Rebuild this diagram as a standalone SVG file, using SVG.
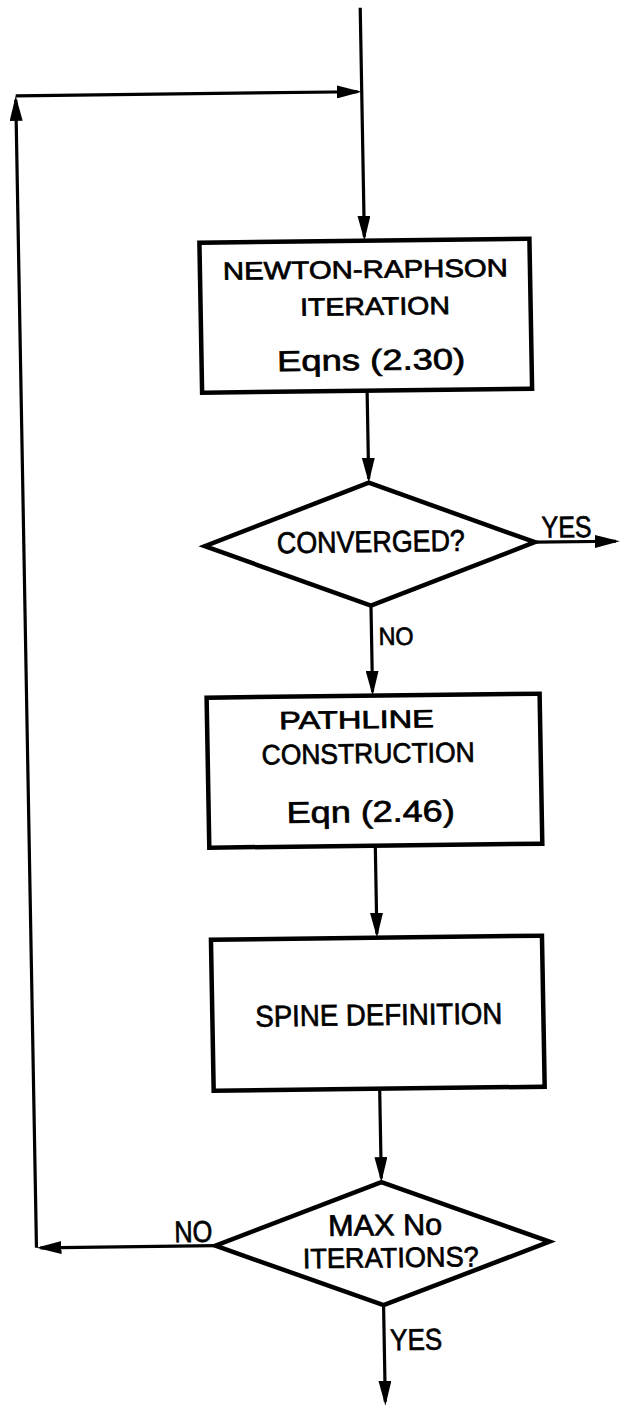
<svg xmlns="http://www.w3.org/2000/svg" width="621" height="1407" viewBox="0 0 621 1407">
<style>
.node{fill:#fff;stroke:#000;stroke-width:4.5;stroke-linejoin:miter}
.conn{fill:none;stroke:#000;stroke-width:3.2}
.t{font-family:"Liberation Sans",Arial,sans-serif;fill:#000;stroke:#000;stroke-width:0.7}
</style>
<defs>
<marker id="ah" viewBox="0 0 25 13" markerWidth="25" markerHeight="13" refX="21" refY="6.5" orient="auto" markerUnits="userSpaceOnUse">
<path d="M0,0 L25,6.5 L0,13 z" fill="#000"/>
</marker>
</defs>
<rect x="0" y="0" width="621" height="1407" fill="#fff"/>
<g transform="matrix(1,-0.012,0.018,1,0,0)">
<g id="connectors" class="conn" marker-end="url(#ah)">
<path d="M360,12 V241"/>
<path d="M14,96 H356"/>
<path d="M14,1248 V100"/>
<path d="M360,395 V483"/>
<path d="M525,548.5 H606"/>
<path d="M360,610 V696"/>
<path d="M360,850 V938"/>
<path d="M360,1093 V1182.5"/>
<path d="M193,1248 H18"/>
<path d="M360,1309.5 V1406"/>
</g>
<g id="newton-raphson">
<rect class="node" x="195" y="245" width="330" height="150"/>
<text class="t" x="218" y="282.4" font-size="25" textLength="285" lengthAdjust="spacingAndGlyphs">NEWTON-RAPHSON</text>
<text class="t" x="294.4" y="319.4" font-size="25" textLength="150" lengthAdjust="spacingAndGlyphs">ITERATION</text>
<text class="t" x="270.6" y="374.4" font-size="29" textLength="188" lengthAdjust="spacingAndGlyphs">Eqns (2.30)</text>
</g>
<g id="converged">
<path class="node" d="M360,487 L525,548.5 L360,610 L195,548.5 Z"/>
<text class="t" x="267" y="556.4" font-size="30" textLength="188" lengthAdjust="spacingAndGlyphs">CONVERGED?</text>
</g>
<g id="labels">
<text class="t" x="532" y="544" font-size="30" textLength="50" lengthAdjust="spacingAndGlyphs">YES</text>
<text class="t" x="367" y="649.5" font-size="25" textLength="35" lengthAdjust="spacingAndGlyphs">NO</text>
<text class="t" x="152" y="1244" font-size="30" textLength="38" lengthAdjust="spacingAndGlyphs">NO</text>
<text class="t" x="366" y="1354.6" font-size="30" textLength="52" lengthAdjust="spacingAndGlyphs">YES</text>
</g>
<g id="pathline">
<rect class="node" x="194" y="700" width="333" height="150"/>
<text class="t" x="266" y="732.4" font-size="25" textLength="155" lengthAdjust="spacingAndGlyphs">PATHLINE</text>
<text class="t" x="248" y="767.4" font-size="28" textLength="213" lengthAdjust="spacingAndGlyphs">CONSTRUCTION</text>
<text class="t" x="272" y="826.4" font-size="30" textLength="168" lengthAdjust="spacingAndGlyphs">Eqn (2.46)</text>
</g>
<g id="spine">
<rect class="node" x="194" y="942" width="331" height="151"/>
<text class="t" x="237" y="1029.5" font-size="30" textLength="247" lengthAdjust="spacingAndGlyphs">SPINE DEFINITION</text>
</g>
<g id="max-iterations">
<path class="node" d="M360,1186.5 L527,1248 L360,1309.5 L193,1248 Z"/>
<text class="t" x="306" y="1239.7" font-size="30" textLength="114" lengthAdjust="spacingAndGlyphs">MAX No</text>
<text class="t" x="280" y="1271.7" font-size="28" textLength="176" lengthAdjust="spacingAndGlyphs">ITERATIONS?</text>
</g>
</g>
</svg>
